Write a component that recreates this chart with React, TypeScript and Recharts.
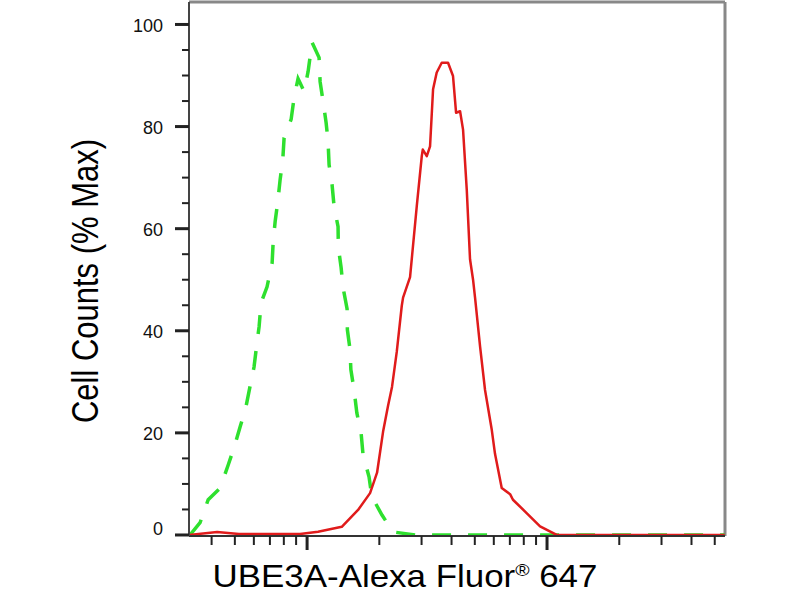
import { LineChart, Line, XAxis, YAxis, ReferenceLine } from "recharts";

// isotype control (green, dashed)
const isoX = [325, 358, 387, 434, 469, 496, 526, 555, 579, 601, 617, 631, 643, 681, 715, 722, 736, 755, 772, 792, 802, 858, 883, 917, 972, 1010, 1049, 1122, 1133, 1166, 1200, 1223, 1235, 1271, 1296, 1346, 1350, 1386, 1413, 1468, 1472, 1510, 1522, 1570, 1612, 1679, 1711, 1812, 1862, 2052, 2281, 2818, 55000];
const isoY = [0, 2.4, 6.9, 9.2, 13.7, 17.1, 21.2, 24.9, 29.2, 32.9, 37.3, 40.8, 45.5, 48.6, 53.3, 57.3, 61.4, 65.3, 69.6, 73.5, 77.8, 81.4, 85.7, 89.4, 86.9, 90.8, 96.5, 93.5, 88.8, 84.9, 80.8, 77.1, 72.5, 68.6, 64.3, 60.4, 56.3, 52.4, 48.4, 44.3, 40.2, 36.3, 32.4, 28.4, 23.9, 20, 15.7, 11.4, 7.5, 3.9, 0.6, 0, 0];

// UBE3A stained (red, solid)
const ubeX = [322, 422, 520, 935, 1111, 1395, 1631, 1830, 1957, 2073, 2175, 2259, 2365, 2481, 2512, 2686, 2865, 3006, 3036, 3154, 3254, 3350, 3469, 3640, 3868, 4057, 4178, 4341, 4467, 4629, 4776, 4917, 5012, 5260, 5516, 5884, 6070, 6474, 7015, 7211, 8222, 9354, 10975, 55000];
const ubeY = [0, 0.6, 0.2, 0.2, 0.65, 1.6, 4.9, 8.2, 12.2, 20.2, 25.3, 29, 35.9, 44.9, 46.5, 50.5, 64.4, 74.2, 75.5, 74.2, 76.1, 87.3, 90.6, 92.5, 92.5, 89.9, 82.7, 83, 79.4, 67.6, 54, 50, 46.5, 36.9, 28.4, 20.6, 15.9, 9.2, 8, 6.9, 4.3, 1.7, 0, 0];

const xTicks = [400, 500, 600, 700, 800, 900, 1000, 2000, 3000, 4000, 5000, 6000, 7000, 8000, 9000, 10000, 20000, 30000, 40000, 50000];
const xMajor = [1000, 10000];
const yTicks = [0, 5, 10, 15, 20, 25, 30, 35, 40, 45, 50, 55, 60, 65, 70, 75, 80, 85, 90, 95, 100];

const isoData = isoX.map((x, i) => ({ x, y: isoY[i] }));
const ubeData = ubeX.map((x, i) => ({ x, y: ubeY[i] }));

const X_MIN = 322;
const X_MAX = 55170;
const Y_MIN = -0.2;
const Y_MAX = 104.4;

const font = "'Liberation Sans', Arial, sans-serif";

const YTick = ({ x, y, payload }: any) => {
  const v = payload.value;
  const major = v % 20 === 0;
  return (
    <g>
      <line x1={x - (major ? 14 : 7)} x2={x} y1={y} y2={y} stroke="#222" strokeWidth={major ? 3 : 2} />
      {major && (
        <text x={x - 26} y={y + (v === 0 ? -6 : 1)} dy="0.36em" textAnchor="end" fontSize={18} fontFamily={font} fill="#111">
          {v}
        </text>
      )}
    </g>
  );
};

const XTick = ({ x, y, payload }: any) => {
  const major = xMajor.includes(payload.value);
  return <line x1={x} x2={x} y1={y} y2={y + (major ? 14 : 9)} stroke="#222" strokeWidth={major ? 3 : 2} />;
};

const XTitle = () => (
  <text transform="translate(405,587) scale(1.145,1)" textAnchor="middle" fontSize={30.5} fontFamily={font} fill="#000">
    UBE3A-Alexa Fluor
    <tspan fontSize={17} dy={-11}>®</tspan>
    <tspan dy={11}> 647</tspan>
  </text>
);

const YTitle = () => (
  <text transform="translate(98,281) rotate(-90) scale(1,1.2)" textAnchor="middle" fontSize={31} fontFamily={font} fill="#000">
    Cell Counts (% Max)
  </text>
);

export default function App() {
  return (
    <div style={{ position: "absolute", left: 0, top: 0, background: "#fff" }}>
      <LineChart width={800} height={600} margin={{ top: 2, right: 75, left: 0, bottom: 0 }}>
        <XAxis
          dataKey="x"
          type="number"
          scale="log"
          domain={[X_MIN, X_MAX]}
          allowDataOverflow
          ticks={xTicks}
          interval={0}
          tickSize={0}
          tickMargin={0}
          tick={<XTick />}
          axisLine={{ stroke: "#333", strokeWidth: 2 }}
          height={64}
          label={{ content: () => <XTitle /> }}
        />
        <YAxis
          type="number"
          domain={[Y_MIN, Y_MAX]}
          allowDataOverflow
          ticks={yTicks}
          interval={0}
          tickSize={0}
          tickMargin={0}
          tick={<YTick />}
          axisLine={{ stroke: "#444", strokeWidth: 2 }}
          width={189}
          label={{ content: () => <YTitle /> }}
        />
        <ReferenceLine y={Y_MAX} stroke="#888" strokeWidth={3} />
        <ReferenceLine x={X_MAX} stroke="#888" strokeWidth={3} />
        <Line
          data={isoData}
          dataKey="y"
          type="linear"
          stroke="#2ee02e"
          strokeWidth={3.5}
          strokeDasharray="19 17"
          dot={false}
          activeDot={false}
          isAnimationActive={false}
        />
        <Line
          data={ubeData}
          dataKey="y"
          type="linear"
          stroke="#e01b1b"
          strokeWidth={2.5}
          strokeLinejoin="round"
          dot={false}
          activeDot={false}
          isAnimationActive={false}
        />
      </LineChart>
    </div>
  );
}
